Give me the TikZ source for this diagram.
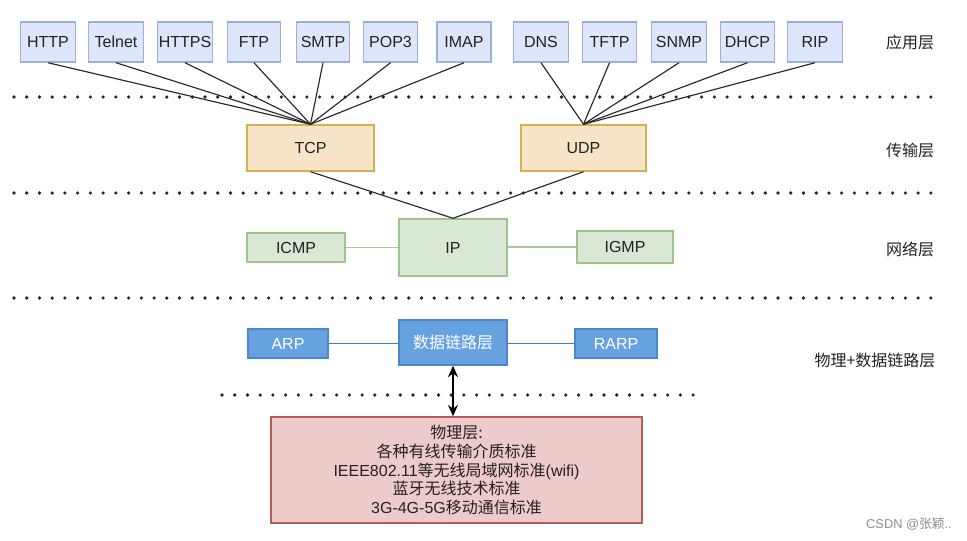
\documentclass[tikz,border=0pt]{standalone}
\usepackage{fontspec}
\setmainfont{Liberation Sans}
\newfontfamily\cjk{Noto Sans CJK SC}
\usetikzlibrary{arrows.meta}
\definecolor{appfill}{HTML}{DDE6FA}
\definecolor{appdraw}{HTML}{9AB0D8}
\definecolor{tfill}{HTML}{F7E4C9}
\definecolor{tdraw}{HTML}{D6B04A}
\definecolor{gfill}{HTML}{D9E7D5}
\definecolor{gdraw}{HTML}{9FC488}
\definecolor{bfill}{HTML}{66A2E0}
\definecolor{bdraw}{HTML}{4F86C6}
\definecolor{rfill}{HTML}{EDCBCB}
\definecolor{rdraw}{HTML}{B85A5A}
\definecolor{txt}{HTML}{222222}
\tikzset{
  box/.style={draw, line width=1.1pt, inner sep=0pt, font=\fontsize{12}{14}\selectfont, text=txt},
  appbox/.style={box, fill=appfill, draw=appdraw},
  tbox/.style={box, fill=tfill, draw=tdraw},
  gbox/.style={box, fill=gfill, draw=gdraw},
  bbox/.style={box, fill=bfill, draw=bdraw, text=white},
  rbox/.style={box, fill=rfill, draw=rdraw, align=center, font=\fontsize{12}{13.9}\selectfont},
  conn/.style={draw=black!85, line width=0.85pt},
  gconn/.style={draw=gdraw!90, line width=1.3pt},
  bconn/.style={draw=bdraw!90!black, line width=0.8pt},
  dots/.style={line width=2.7pt, line cap=round, dash pattern=on 0pt off 9.55pt, draw=black!85},
  layer/.style={font=\cjk\fontsize{12}{14}\selectfont, text=txt},
}
\begin{document}
\begin{tikzpicture}[x=0.75pt, y=-0.75pt]
\useasboundingbox (0,0) rectangle (967,540);
% dotted separators
\coordinate (d1a) at (14,97); \coordinate (d1b) at (937,97);
\coordinate (d2a) at (14,193); \coordinate (d2b) at (937,193);
\coordinate (d3a) at (14,298); \coordinate (d3b) at (937,298);
\coordinate (d4a) at (222,395); \coordinate (d4b) at (695,395);
\draw[dots] (d1a) -- (d1b);
\draw[dots] (d2a) -- (d2b);
\draw[dots] (d3a) -- (d3b);
\draw[dots] (d4a) -- (d4b);
% application layer
\node[appbox, minimum width=41pt, minimum height=30pt] (HTTP) at (48,42) {HTTP};
\node[appbox, minimum width=41pt, minimum height=30pt] (Telnet) at (116,42) {Telnet};
\node[appbox, minimum width=41pt, minimum height=30pt] (HTTPS) at (185,42) {HTTPS};
\node[appbox, minimum width=40pt, minimum height=30pt] (FTP) at (254,42) {FTP};
\node[appbox, minimum width=40pt, minimum height=30pt] (SMTP) at (323,42) {SMTP};
\node[appbox, minimum width=40.5pt, minimum height=30pt] (POP3) at (390.5,42) {POP3};
\node[appbox, minimum width=40.5pt, minimum height=30pt] (IMAP) at (464,42) {IMAP};
\node[appbox, minimum width=41pt, minimum height=30pt] (DNS) at (541,42) {DNS};
\node[appbox, minimum width=40.5pt, minimum height=30pt] (TFTP) at (609.5,42) {TFTP};
\node[appbox, minimum width=41pt, minimum height=30pt] (SNMP) at (679,42) {SNMP};
\node[appbox, minimum width=40.5pt, minimum height=30pt] (DHCP) at (747.5,42) {DHCP};
\node[appbox, minimum width=41pt, minimum height=30pt] (RIP) at (815,42) {RIP};
% transport
\node[tbox, minimum width=95pt, minimum height=34.5pt] (TCP) at (310.5,148) {TCP};
\node[tbox, minimum width=93.75pt, minimum height=34.5pt] (UDP) at (583.5,148) {UDP};
\foreach \n in {HTTP,Telnet,HTTPS,FTP,SMTP,POP3,IMAP}
  \draw[conn] (\n.south) -- (TCP.north);
\foreach \n in {DNS,TFTP,SNMP,DHCP,RIP}
  \draw[conn] (\n.south) -- (UDP.north);
% network
\node[gbox, minimum width=81pt, minimum height=42.75pt] (IP) at (453,247.5) {IP};
\node[gbox, minimum width=73.5pt, minimum height=21.75pt] (ICMP) at (296,247.5) {ICMP};
\node[gbox, minimum width=72pt, minimum height=24pt] (IGMP) at (625,247) {IGMP};
\draw[conn] (TCP.south) -- (IP.north);
\draw[conn] (UDP.south) -- (IP.north);
\draw[gconn] (ICMP.east) -- (IP.west |- ICMP.east);
\draw[gconn] (IGMP.west) -- (IP.east |- IGMP.west);
% data link
\node[bbox, minimum width=81pt, minimum height=33.75pt, font=\cjk\fontsize{12}{14}\selectfont] (DL) at (453,342.5) {数据链路层};
\node[bbox, minimum width=60pt, minimum height=21.75pt] (ARP) at (288,343.5) {ARP};
\node[bbox, minimum width=61.5pt, minimum height=21.75pt] (RARP) at (616,343.5) {RARP};
\draw[bconn] (ARP.east) -- (DL.west |- ARP.east);
\draw[bconn] (RARP.west) -- (DL.east |- RARP.west);
% physical
\node[rbox, minimum width=278.25pt, minimum height=79.5pt] (PHY) at (456.5,470) {{\cjk 物理层:}\\{\cjk 各种有线传输介质标准}\\IEEE802.11{\cjk 等无线局域网标准}(wifi)\\{\cjk 蓝牙无线技术标准}\\3G-4G-5G{\cjk 移动通信标准}};
\draw[line width=1.1pt, {Stealth[length=8.5pt,width=7.5pt]}-{Stealth[length=8.5pt,width=7.5pt]}] (DL.south) -- (DL.south |- PHY.north);
% layer labels
\node[layer] (L1) at (910,42) {应用层};
\node[layer] (L2) at (910,150) {传输层};
\node[layer] (L3) at (910,249) {网络层};
\node[layer] (L4) at (875,360) {物理+数据链路层};
\node[font=\fontsize{9.6}{11}\selectfont, text=black!45] (wm) at (909,524) {CSDN @{\cjk 张颖}..};
\end{tikzpicture}
\end{document}
